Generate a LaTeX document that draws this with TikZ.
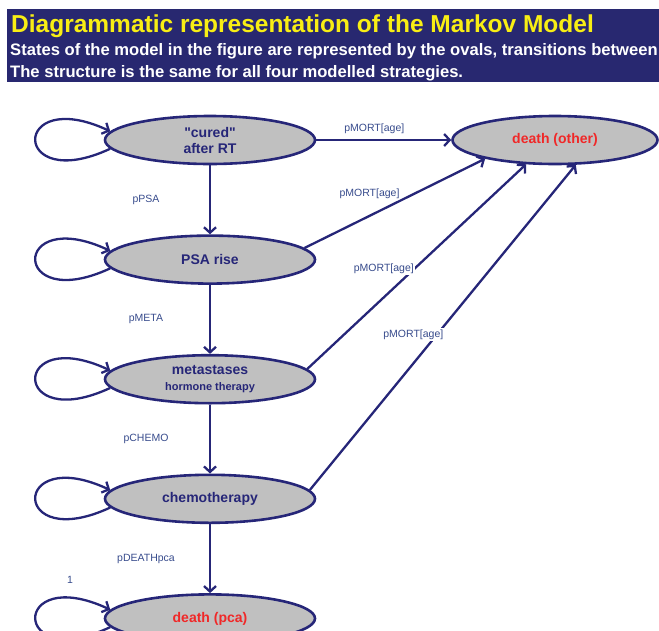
\documentclass[tikz,border=0pt]{standalone}
\usepackage{fontspec}
\setmainfont{Liberation Sans}[Ligatures=TeXOff]
\usetikzlibrary{arrows.meta,positioning,shapes.geometric}
\definecolor{navy}{RGB}{38,38,120}
\definecolor{banner}{RGB}{40,40,112}
\definecolor{titleyel}{RGB}{248,238,20}
\definecolor{lblblue}{RGB}{55,75,140}
\definecolor{stategray}{RGB}{192,192,192}
\definecolor{deadred}{RGB}{240,40,40}

\begin{document}
\begin{tikzpicture}[x=1pt, y=1pt,
    state/.style={ellipse, draw=navy, line width=2.6pt, fill=stategray,
                  minimum width=210pt, minimum height=48pt, inner sep=0pt,
                  align=center, text=navy, font=\fontsize{14}{16}\selectfont\bfseries},
    arr/.style={-{Straight Barb[length=5.5pt,width=12pt]}, navy, line width=2.3pt},
    lbl/.style={font=\fontsize{10.5}{12}\selectfont, text=lblblue, inner sep=1.5pt},
    node distance=69pt]

    \useasboundingbox (0,0) rectangle (659,-630);

    % header banner
    \fill[banner] (7,-9) rectangle (659,-82);
    \node[anchor=base west, inner sep=0pt, text=titleyel,
          font=\fontsize{24.5}{28}\selectfont\bfseries] (title) at (11,-32)
          {Diagrammatic representation of the Markov Model};
    \node[anchor=base west, inner sep=0pt, text=white,
          font=\fontsize{16.6}{19}\selectfont\bfseries] (sub1) at (10,-55)
          {States of the model in the figure are represented by the ovals, transitions between};
    \node[anchor=base west, inner sep=0pt, text=white,
          font=\fontsize{16.6}{19}\selectfont\bfseries] (sub2) at (10,-77)
          {The structure is the same for all four modelled strategies.};

    % states
    \node[state] (cured) at (210,-140) {"cured"\\after RT};
    \node[state, below=of cured] (psa) {PSA rise};
    \node[state, below=of psa] (meta) {metastases\\{\fontsize{11}{13}\selectfont hormone therapy}};
    \node[state, below=of meta] (chemo) {chemotherapy};
    \node[state, below=of chemo, text=deadred] (deathpca) {death (pca)};
    \node[state, text=deadred, minimum width=205pt] (deathoth) at (555,-140) {death (other)};

    % progression
    \draw[arr] (cured) -- node[lbl, midway, xshift=-64pt] (lpsa) {pPSA} (psa);
    \draw[arr] (psa) -- node[lbl, midway, xshift=-64pt] (lmeta) {pMETA} (meta);
    \draw[arr] (meta) -- node[lbl, midway, xshift=-64pt] (lchemo) {pCHEMO} (chemo);
    \draw[arr] (chemo) -- node[lbl, midway, xshift=-64pt] (ldeath) {pDEATHpca} (deathpca);

    % other-cause mortality
    \draw[arr] (cured) -- node[lbl, pos=0.43, above=4pt] (lmort1) {pMORT[age]} (deathoth);
    \draw[arr] (psa.7) -- node[lbl, pos=0.36, above=15pt] (lmort2) {pMORT[age]} (deathoth.195);
    \draw[arr] (meta.6) -- node[lbl, pos=0.49, anchor=east, fill=white, xshift=2pt] (lmort3) {pMORT[age]} (deathoth.220);
    \draw[arr] (chemo.5) -- node[lbl, pos=0.478, anchor=east, fill=white, xshift=9pt] (lmort4) {pMORT[age]} (deathoth.310);

    % staying in a state
    \draw[arr] (cured.185) to[out=205, in=155, min distance=110pt] (cured.175);
    \draw[arr] (psa.185) to[out=205, in=155, min distance=110pt] (psa.175);
    \draw[arr] (meta.185) to[out=205, in=155, min distance=110pt] (meta.175);
    \draw[arr] (chemo.185) to[out=205, in=155, min distance=110pt] (chemo.175);
    \draw[arr] (deathpca.185) to[out=205, in=155, min distance=110pt]
        node[lbl, pos=0.84, above=12pt] (lone) {1} (deathpca.175);
\end{tikzpicture}
\end{document}
